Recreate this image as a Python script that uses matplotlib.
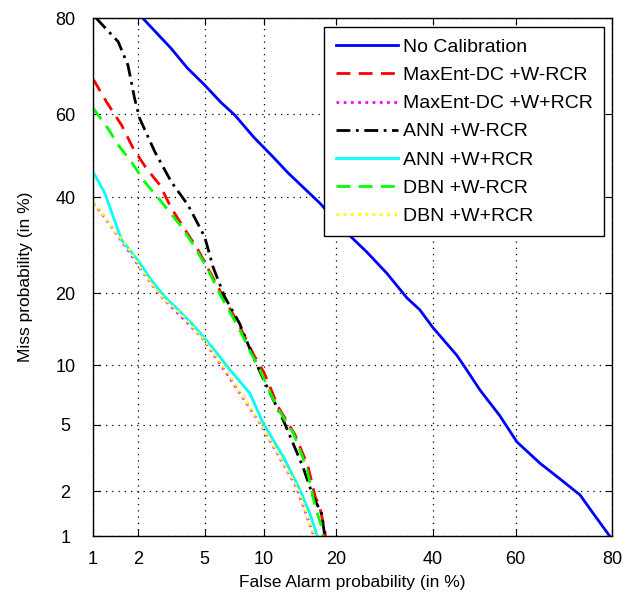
import numpy as np
import matplotlib
matplotlib.use("Agg")
import matplotlib.pyplot as plt
from statistics import NormalDist

plt.rcParams['font.family'] = ['Liberation Sans', 'DejaVu Sans']

# DET curves, values in %
ticks = [1, 2, 5, 10, 20, 40, 60, 80]

nocal_fa = [2.15, 2.6, 3.2, 4.0, 5.0, 6.1, 7.2, 9.0, 10.8, 12.8, 17.3, 21.9, 25.6, 29.7,
            34.1, 37.0, 40.0, 45.8, 48.2, 51.4, 56.2, 60.3, 65.6, 70.0, 74.1, 76.6, 79.6]
nocal_miss = [80.0, 77.5, 74.5, 70.4, 66.7, 62.8, 59.8, 54.3, 50.1, 45.8, 38.6, 31.8, 27.8, 23.6,
              19.2, 17.3, 14.7, 11.1, 9.5, 7.6, 5.6, 4.0, 3.0, 2.4, 1.9, 1.44, 1.0]

me_m_fa = [1.0, 1.03, 1.24, 1.57, 1.87, 2.27, 2.75, 3.23, 3.78, 4.6, 6.14, 7.6, 8.9, 10.0,
           11.6, 13.7, 15.5, 16.6, 17.3, 18.1, 18.2]
me_m_miss = [68.0, 67.4, 62.9, 57.4, 51.8, 46.9, 42.9, 37.4, 33.2, 28.2, 20.0, 14.9, 11.2, 9.2,
             6.2, 4.4, 2.9, 1.85, 1.59, 1.1, 1.0]

me_p_fa = [1.0, 1.06, 1.34, 1.73, 2.11, 2.69, 3.70, 4.8, 6.55, 9.56, 13.9, 16.3, 16.4]
me_p_miss = [38.5, 37.7, 33.2, 28.2, 24.2, 20.0, 16.2, 13.4, 9.15, 5.08, 2.14, 1.04, 1.0]

ann_m_fa = [1.05, 1.49, 1.73, 1.91, 2.06, 2.56, 3.23, 4.04, 5.0, 5.55, 6.39, 7.62, 8.88,
            10.3, 12.2, 14.8, 16.3, 17.6, 18.1]
ann_m_miss = [80.0, 75.7, 71.0, 63.7, 59.0, 51.0, 43.6, 38.1, 31.0, 24.8, 19.4, 15.2, 10.9,
              7.88, 5.29, 2.85, 1.85, 1.43, 1.0]

ann_p_fa = [1.0, 1.03, 1.21, 1.38, 1.57, 2.01, 2.44, 2.95, 3.54, 4.40, 5.66, 6.81, 8.56,
            9.9, 12.2, 14.4, 15.8, 16.8, 16.9]
ann_p_miss = [46.0, 45.3, 40.9, 35.4, 30.3, 26.1, 22.3, 19.4, 17.3, 14.8, 11.7, 9.5, 7.3,
              5.08, 3.28, 2.04, 1.43, 1.04, 1.0]

dbn_m_fa = [1.0, 1.27, 1.49, 1.82, 2.22, 2.81, 3.70, 4.40, 5.22, 6.14, 7.48, 8.69, 9.56,
            11.4, 13.5, 15.3, 16.6, 17.6, 17.8]
dbn_m_miss = [61.5, 56.6, 52.6, 48.5, 43.6, 38.9, 33.2, 28.9, 24.2, 19.4, 14.8, 11.3, 9.5,
              6.23, 4.47, 2.85, 1.59, 1.16, 1.0]

dbn_p_fa = [1.0, 1.05, 1.36, 1.75, 2.15, 2.75, 3.75, 4.9, 6.6, 9.7, 14.1, 16.5]
dbn_p_miss = [38.6, 38.2, 33.0, 28.5, 24.0, 19.8, 16.4, 13.2, 9.3, 5.0, 2.1, 1.0]

labels = ['No Calibration', 'MaxEnt-DC +W-RCR', 'MaxEnt-DC +W+RCR', 'ANN +W-RCR',
          'ANN +W+RCR', 'DBN +W-RCR', 'DBN +W+RCR']

nd = NormalDist()
_ppf = np.vectorize(nd.inv_cdf, otypes=[float])
_cdf = np.vectorize(nd.cdf, otypes=[float])


def probit(p):
    p = np.clip(np.asarray(p, dtype=float) / 100.0, 1e-9, 1 - 1e-9)
    return _ppf(p)


def unprobit(z):
    return _cdf(np.asarray(z, dtype=float)) * 100.0


fig = plt.figure(figsize=(6.23, 5.93), dpi=100)
ax = fig.add_axes([0.1493, 0.0961, 0.8330, 0.8735])
ax.set_xscale('function', functions=(probit, unprobit))
ax.set_yscale('function', functions=(probit, unprobit))

lw = 2.0
ax.plot(nocal_fa, nocal_miss, color='#0000ff', ls='-', lw=lw, label=labels[0])
ax.plot(me_m_fa, me_m_miss, color='#ff0000', ls=(0, (5, 3)), lw=lw, label=labels[1])
ax.plot(me_p_fa, me_p_miss, color='#ff00ff', ls=(0, (1, 1.6)), lw=lw, label=labels[2])
ax.plot(ann_m_fa, ann_m_miss, color='#000000', ls=(0, (5, 2, 1, 2)), lw=lw, label=labels[3])
ax.plot(ann_p_fa, ann_p_miss, color='#00ffff', ls='-', lw=lw, label=labels[4])
ax.plot(dbn_m_fa, dbn_m_miss, color='#00ff00', ls=(0, (5, 3)), lw=lw, label=labels[5])
ax.plot(dbn_p_fa, dbn_p_miss, color='#ffff00', ls=(0, (1, 1.6)), lw=lw, label=labels[6])

ax.set_xlim(1, 80)
ax.set_ylim(1, 80)
ax.set_xticks(ticks)
ax.set_yticks(ticks)
ax.set_xticklabels([str(t) for t in ticks])
ax.set_yticklabels([str(t) for t in ticks], ha='center')
ax.minorticks_off()
ax.tick_params(direction='in', top=True, right=True, length=5, labelsize=13)
ax.tick_params(axis='x', pad=11)
ax.tick_params(axis='y', pad=20)
ax.grid(True, color='black', ls=(0, (1, 4)), lw=0.9)
for s in ax.spines.values():
    s.set_linewidth(1.0)

ax.set_xlabel('False Alarm probability (in %)', fontsize=12.5, labelpad=5)
ax.set_ylabel('Miss probability (in %)', fontsize=12.5, labelpad=16)

leg = ax.legend(loc='upper right', bbox_to_anchor=(0.985, 0.983), borderaxespad=0,
                fancybox=False, edgecolor='black', framealpha=1, fontsize=14,
                handlelength=3.2, handletextpad=0.25, labelspacing=0.54, borderpad=0.6)
leg.get_frame().set_linewidth(1.0)

fig.savefig('out.png', dpi=100)
